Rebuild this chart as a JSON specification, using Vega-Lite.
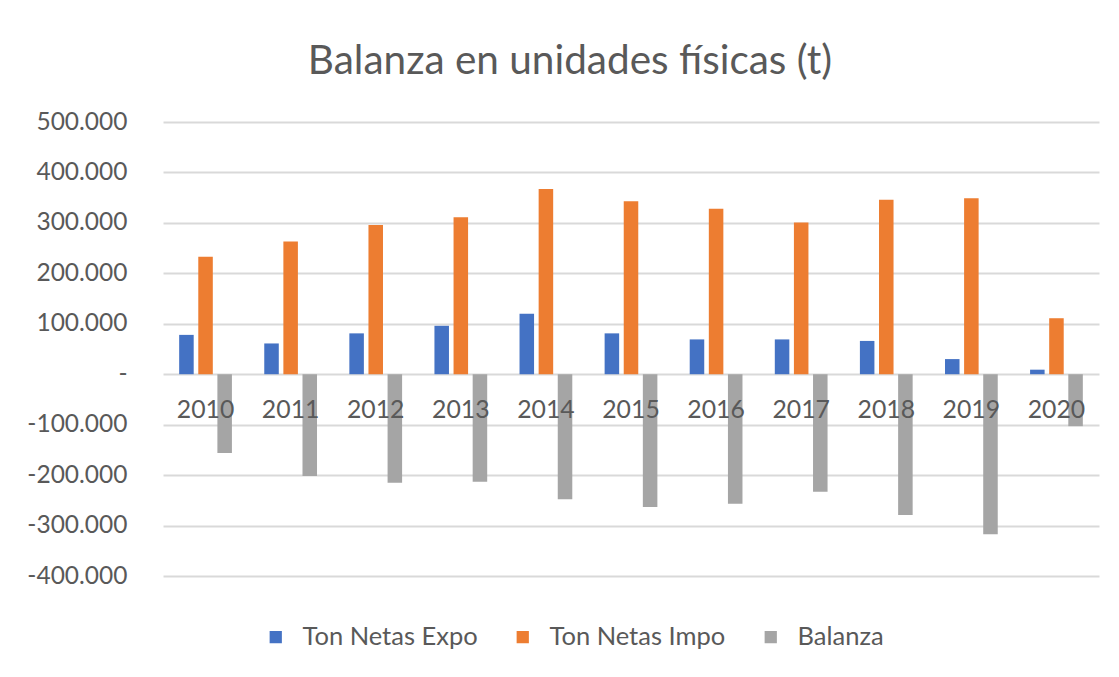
{
  "$schema": "https://vega.github.io/schema/vega-lite/v6.json",
  "width": 936,
  "height": 454,
  "autosize": "none",
  "padding": {"left": 163, "top": 122, "right": 20, "bottom": 101},
  "background": "white",
  "title": {
    "text": "Balanza en unidades físicas (t)",
    "font": "Lato",
    "fontSize": 40.5,
    "fontWeight": "normal",
    "color": "#595959",
    "anchor": "middle",
    "dx": -61,
    "offset": 27
  },
  "data": {
    "values": [
      {"year": "2010", "serie": "Ton Netas Expo", "value": 78000},
      {"year": "2010", "serie": "Ton Netas Impo", "value": 233000},
      {"year": "2010", "serie": "Balanza", "value": -156000},
      {"year": "2011", "serie": "Ton Netas Expo", "value": 61000},
      {"year": "2011", "serie": "Ton Netas Impo", "value": 263000},
      {"year": "2011", "serie": "Balanza", "value": -202000},
      {"year": "2012", "serie": "Ton Netas Expo", "value": 81000},
      {"year": "2012", "serie": "Ton Netas Impo", "value": 296000},
      {"year": "2012", "serie": "Balanza", "value": -215000},
      {"year": "2013", "serie": "Ton Netas Expo", "value": 96000},
      {"year": "2013", "serie": "Ton Netas Impo", "value": 311000},
      {"year": "2013", "serie": "Balanza", "value": -213000},
      {"year": "2014", "serie": "Ton Netas Expo", "value": 120000},
      {"year": "2014", "serie": "Ton Netas Impo", "value": 367000},
      {"year": "2014", "serie": "Balanza", "value": -248000},
      {"year": "2015", "serie": "Ton Netas Expo", "value": 81000},
      {"year": "2015", "serie": "Ton Netas Impo", "value": 343000},
      {"year": "2015", "serie": "Balanza", "value": -263000},
      {"year": "2016", "serie": "Ton Netas Expo", "value": 69000},
      {"year": "2016", "serie": "Ton Netas Impo", "value": 328000},
      {"year": "2016", "serie": "Balanza", "value": -257000},
      {"year": "2017", "serie": "Ton Netas Expo", "value": 69000},
      {"year": "2017", "serie": "Ton Netas Impo", "value": 301000},
      {"year": "2017", "serie": "Balanza", "value": -233000},
      {"year": "2018", "serie": "Ton Netas Expo", "value": 66000},
      {"year": "2018", "serie": "Ton Netas Impo", "value": 346000},
      {"year": "2018", "serie": "Balanza", "value": -279000},
      {"year": "2019", "serie": "Ton Netas Expo", "value": 30000},
      {"year": "2019", "serie": "Ton Netas Impo", "value": 349000},
      {"year": "2019", "serie": "Balanza", "value": -317000},
      {"year": "2020", "serie": "Ton Netas Expo", "value": 9000},
      {"year": "2020", "serie": "Ton Netas Impo", "value": 111000},
      {"year": "2020", "serie": "Balanza", "value": -103000}
    ]
  },
  "layer": [
    {
      "mark": {"type": "bar"},
      "encoding": {
        "x": {
          "field": "year",
          "type": "nominal",
          "scale": {"paddingInner": 0.38, "paddingOuter": 0.19},
          "axis": null
        },
        "xOffset": {
          "field": "serie",
          "type": "nominal",
          "sort": ["Ton Netas Expo", "Ton Netas Impo", "Balanza"],
          "scale": {"paddingInner": 0.24, "paddingOuter": 0}
        },
        "y": {
          "field": "value",
          "type": "quantitative",
          "scale": {"domain": [-400000, 500000], "nice": false, "zero": false},
          "axis": {
            "title": null,
            "values": [-400000, -300000, -200000, -100000, 0, 100000, 200000, 300000, 400000, 500000],
            "labelExpr": "datum.value == 0 ? '-' : replace(replace(format(datum.value, ','), regexp(',', 'g'), '.'), '−', '-')",
            "ticks": false,
            "domain": false,
            "labelFont": "Lato",
            "labelFontSize": 24.5,
            "labelColor": "#595959",
            "labelPadding": 36,
            "gridColor": "#D9D9D9",
            "gridWidth": 2
          }
        },
        "color": {
          "field": "serie",
          "type": "nominal",
          "sort": ["Ton Netas Expo", "Ton Netas Impo", "Balanza"],
          "scale": {
            "domain": ["Ton Netas Expo", "Ton Netas Impo", "Balanza"],
            "range": ["#4472C4", "#ED7D31", "#A5A5A5"]
          },
          "legend": {
            "orient": "none",
            "legendX": 100,
            "legendY": 502,
            "direction": "horizontal",
            "title": null,
            "symbolType": "square",
            "symbolSize": 150,
            "symbolStrokeWidth": 0,
            "labelFont": "Lato",
            "labelFontSize": 25.5,
            "labelColor": "#595959",
            "labelOffset": 14,
            "labelLimit": 500,
            "columnPadding": 32
          }
        }
      }
    },
    {
      "transform": [{"filter": "datum.serie == 'Balanza'"}],
      "mark": {
        "type": "text",
        "dy": 37,
        "font": "Lato",
        "fontSize": 24.8,
        "color": "#595959"
      },
      "encoding": {
        "x": {"field": "year", "type": "nominal"},
        "y": {"datum": 0},
        "text": {"field": "year"}
      }
    }
  ],
  "config": {
    "view": {"stroke": null}
  }
}
